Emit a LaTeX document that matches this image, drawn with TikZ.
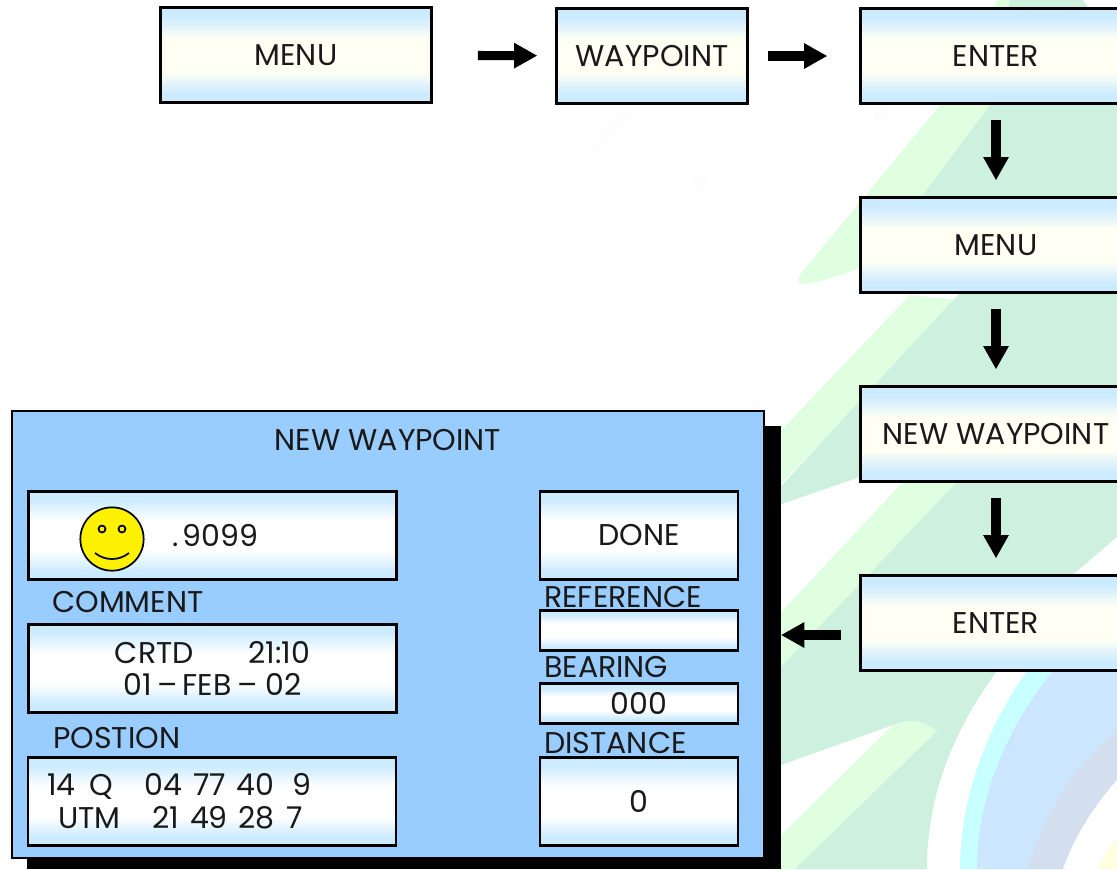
\documentclass[tikz,border=0pt]{standalone}
\usepackage{fontspec}
\setmainfont{Poppins}
\usetikzlibrary{arrows.meta,positioning}

\definecolor{leaflight}{HTML}{DFFFE0}
\definecolor{leafdark}{HTML}{CEF1DF}
\definecolor{leaffaint}{HTML}{FDFDFD}
\definecolor{arccyan}{HTML}{C8FFFF}
\definecolor{arcblue}{HTML}{CCE6FF}
\definecolor{arcgrey}{HTML}{D3DFEE}
\definecolor{arcyellow}{HTML}{FFFFE0}
\definecolor{panelblue}{HTML}{99CCFF}
\definecolor{shadeblue}{HTML}{CCEBFF}
\definecolor{shadecream}{HTML}{FFFFF4}

\pgfdeclareverticalshading{flowshade}{100bp}{color(0bp)=(shadeblue); color(30bp)=(shadeblue);
  color(41.5bp)=(shadecream); color(58.5bp)=(shadecream); color(70bp)=(shadeblue); color(100bp)=(shadeblue)}
\pgfdeclareverticalshading{fieldshade}{100bp}{color(0bp)=(shadeblue); color(30bp)=(shadeblue);
  color(41.5bp)=(white); color(58.5bp)=(white); color(70bp)=(shadeblue); color(100bp)=(shadeblue)}

\begin{document}
\begin{tikzpicture}[
    x=0.75pt, y=-0.75pt,
    every node/.style={font=\fontsize{22.5pt}{24pt}\selectfont, text=black!90},
    flowbox/.style={rectangle, draw=black, line width=1.7pt, shading=flowshade,
        minimum width=203.25pt, minimum height=71.25pt, inner sep=0pt},
    fieldbox/.style={rectangle, draw=black, line width=1.7pt, shading=fieldshade,
        minimum width=276pt, minimum height=66pt, inner sep=0pt, align=center},
    sidebox/.style={fieldbox, minimum width=148pt},
    thinbox/.style={sidebox, minimum height=30pt},
    fieldlabel/.style={anchor=west, inner sep=0pt},
    flowarrow/.style={-{Triangle[length=17.5pt,width=18pt]}, line width=6.8pt, draw=black},
    smiley/.style={circle, draw=black, line width=1.3pt, fill=yellow, minimum size=47.5pt, inner sep=0pt}
]
\useasboundingbox (0,0) rectangle (1117,869);

% Watermark behind the boxes
\fill[leaffaint] (625,105) -- (590,150) .. controls (585,157) and (590,158) .. (596,153) -- (640,105) -- cycle;
\fill[leaffaint] (700,182) circle (6pt);
\fill[leaffaint] (881,117) circle (6pt);
\fill[leaflight] (997,0) -- (1012,0) -- (1012,110) -- (940,290) -- (860,268)
    .. controls (830,279) and (808,285) .. (802,284)
    .. controls (796,282) and (798,276) .. (803,271) -- (940,105) -- cycle;
\fill[leaflight] (910,295) -- (770,442) -- (770,495) -- (960,300) -- cycle;
\fill[leaflight] (903,482) -- (770,624) -- (770,680) -- (960,482) -- cycle;
\fill[leaflight] (893,725) -- (770,846) -- (770,869) -- (795,869) -- (937,731)
    .. controls (942,725) and (941,719) .. (932,718)
    .. controls (920,717) and (905,720) .. (893,725) -- cycle;
\fill[leafdark] (1010,0) -- (1083,0) -- (1117,50) -- (1117,537) -- (1075,573) -- (997,671)
    .. controls (950,735) and (927,800) .. (927,869) -- (795,869) -- (937,731)
    .. controls (920,717) and (905,720) .. (893,725) -- (770,769) -- (770,678) -- (781,667)
    -- (957,482) -- (860,477) -- (770,508) -- (770,498) -- (958,295) -- (923,195) -- (990,105) -- cycle;
\fill[arccyan] (1117,600) -- (1027,671) .. controls (985,730) and (960,800) .. (960,869) -- (1117,869) -- cycle;
\fill[arcblue] (1117,600) -- (1053,671) .. controls (1005,730) and (977,800) .. (977,869) -- (1117,869) -- cycle;
\fill[arcgrey] (1117,730) .. controls (1070,770) and (1045,815) .. (1027,869) -- (1063,869)
    .. controls (1075,835) and (1095,805) .. (1117,780) -- cycle;
\fill[white] (1063,869) .. controls (1075,835) and (1095,805) .. (1117,780) -- (1117,837) -- (1097,869) -- cycle;
\fill[arcyellow] (1097,869) -- (1117,837) -- (1117,869) -- cycle;

% Key sequence
\node[flowbox] (menua) at (296,55) {MENU};
\node[flowbox, minimum width=143.25pt] (waypoint) at (652,56) {WAYPOINT};
\node[flowbox] (entera) at (996,56) {ENTER};
\node[flowbox, below=68.8pt of entera] (menub) {MENU};
\node[flowbox, below=68.8pt of menub] (newwaypoint) {NEW WAYPOINT};
\node[flowbox, below=68.8pt of newwaypoint] (enterb) {ENTER};

% Screen
\node[rectangle, fill=black, minimum width=565pt, minimum height=332pt, inner sep=0pt] (panelshadow) at (404,647.5) {};
\node[rectangle, draw=black, line width=1.7pt, fill=panelblue, minimum width=564pt, minimum height=335pt, inner sep=0pt] (panel) at (388,634.5) {};
\node (paneltitle) at (388,440) {NEW WAYPOINT};

\node[fieldbox] (namebox) at (212.5,535.5) {};
\node[smiley] (smile) at (112,539) {};
\draw[line width=1.3pt, fill=yellow] (102,529) circle (2.6pt);
\draw[line width=1.3pt, fill=yellow] (122,529) circle (2.6pt);
\draw[line width=1.3pt] (95,553) .. controls (105,561) and (119,561) .. (129,553);
\node[fieldlabel] (nametext) at (172,536) {.\hspace{3pt}9099};

\node[fieldlabel] (commentlabel) at (52,602) {COMMENT};
\node[fieldbox] (commentbox) at (212.5,668.5) {CRTD\hspace{41pt}21:10\\01\hspace{4pt}–\hspace{4pt}FEB\hspace{4pt}–\hspace{6pt}02\hspace{6pt}};

\node[fieldlabel] (positionlabel) at (53,738) {POSTION};
\node[fieldbox] (positionbox) at (212,801.5) {};
\node[fieldlabel] (positionone) at (47,786) {14\hspace{10pt}Q\hspace{24pt}04\hspace{8pt}77\hspace{8pt}40\hspace{14pt}9};
\node[fieldlabel] (positiontwo) at (58,818) {UTM\hspace{24pt}21\hspace{8pt}49\hspace{8pt}28\hspace{9pt}7};

\node[sidebox] (donebox) at (639,535.5) {DONE};
\node[fieldlabel] (referencelabel) at (544,597) {REFERENCE};
\node[thinbox] (referencebox) at (639,630.5) {};
\node[fieldlabel] (bearinglabel) at (544,667) {BEARING};
\node[thinbox] (bearingbox) at (639,703.5) {000};
\node[fieldlabel] (distancelabel) at (544,743) {DISTANCE};
\node[sidebox] (distancebox) at (639,801.5) {0};

% Arrows
\draw[flowarrow, shorten <=34pt, shorten >=13.5pt] (menua) -- (waypoint);
\draw[flowarrow, shorten <=14.5pt, shorten >=24pt] (waypoint) -- (entera);
\draw[flowarrow, shorten <=11.5pt, shorten >=12pt] (entera) -- (menub);
\draw[flowarrow, shorten <=11.5pt, shorten >=12pt] (menub) -- (newwaypoint);
\draw[flowarrow, shorten <=11.5pt, shorten >=12pt] (newwaypoint) -- (enterb);
\draw[flowarrow, shorten <=14pt] ([yshift=-9pt]enterb.west) -- ([yshift=-9pt]enterb.west -| panelshadow.east);

\end{tikzpicture}
\end{document}
